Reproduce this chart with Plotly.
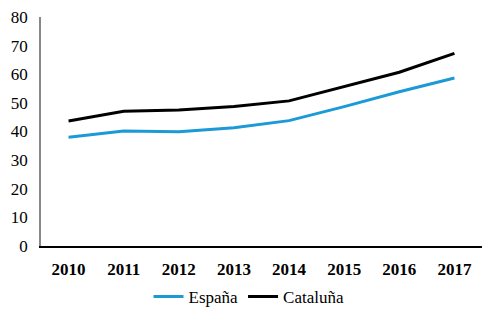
import plotly.graph_objects as go

years = ["2010", "2011", "2012", "2013", "2014", "2015", "2016", "2017"]
espana = [38.0, 40.2, 39.9, 41.3, 43.8, 48.7, 53.9, 58.7]
cataluna = [43.7, 47.1, 47.5, 48.7, 50.7, 55.7, 60.7, 67.3]
y_ticks = [0, 10, 20, 30, 40, 50, 60, 70, 80]

FONT = "Liberation Serif, Times New Roman, serif"

fig = go.Figure()
fig.add_trace(go.Scatter(x=years, y=espana, name="España", mode="lines",
                         line=dict(color="#1b9ad6", width=3)))
fig.add_trace(go.Scatter(x=years, y=cataluna, name="Cataluña", mode="lines",
                         line=dict(color="#000000", width=3)))

fig.update_layout(
    width=498, height=322,
    margin=dict(l=41, r=16, t=17, b=76, autoexpand=False),
    paper_bgcolor="white", plot_bgcolor="white",
    font=dict(family=FONT, size=15, color="#000000"),
    showlegend=True,
    legend=dict(orientation="h", x=0.5, xanchor="center", xref="container",
                y=25 / 322, yanchor="middle", yref="container",
                font=dict(family=FONT, size=17), itemwidth=30,
                tracegroupgap=0),
    xaxis=dict(type="category", range=[-0.5, 7.5], showgrid=False, ticks="",
               showline=True, linecolor="#000000", linewidth=2,
               tickfont=dict(family=FONT, size=17, weight="bold"),
               ticklabelstandoff=7),
    yaxis=dict(range=[0, 80], tickvals=y_ticks, showgrid=False, ticks="",
               showline=True, linecolor="#888888", linewidth=1.5, zeroline=False,
               tickfont=dict(family=FONT, size=17),
               ticklabelstandoff=8),
)
fig.write_html("out.html")
